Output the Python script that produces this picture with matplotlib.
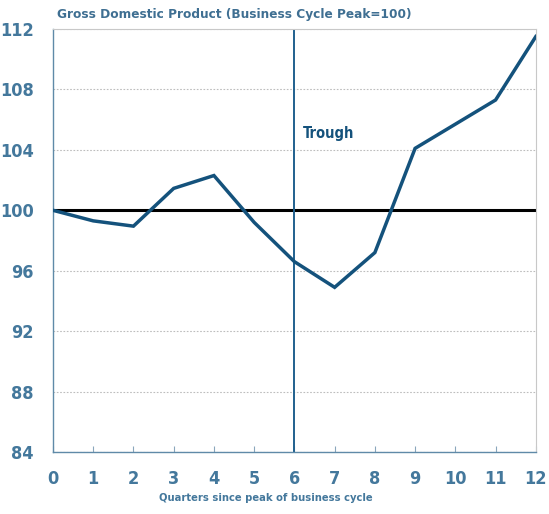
import matplotlib
matplotlib.use("Agg")
import matplotlib.pyplot as plt

quarters = list(range(0, 13))
gdp = [100.0, 99.3, 98.95, 101.45, 102.3, 99.2, 96.6, 94.9, 97.2, 104.1, 105.7, 107.3, 111.5]
yticks = [84, 88, 92, 96, 100, 104, 108, 112]
trough_q = 6

fam = ['DejaVu Sans']
tick_col = '#44789c'
line_col = '#14527c'

fig = plt.figure(figsize=(5.49, 5.14), dpi=100)
ax = fig.add_axes([0.0965, 0.1206, 0.8795, 0.823])

ax.plot(quarters, gdp, color=line_col, lw=2.5, zorder=3, solid_joinstyle='miter')
ax.axhline(100, color='black', lw=2.2, zorder=2)
ax.axvline(trough_q, color='#20608e', lw=1.4, zorder=2)
ax.text(6.2, 105.1, 'Trough', family=fam, fontweight='bold', fontsize=10.5, color=line_col,
        fontstretch='condensed', va='center')

ax.set_xlim(0, 12)
ax.set_ylim(84, 112)
ax.set_xticks(quarters)
ax.set_yticks(yticks)
ax.grid(axis='y', color='#bdbdbd', ls=(0, (1.5, 1.5)), lw=0.8)
ax.set_axisbelow(True)

for s in ['top', 'right']:
    ax.spines[s].set_color('#c8c8c8')
for s in ['left', 'bottom']:
    ax.spines[s].set_color('#5f8aa8')
    ax.spines[s].set_linewidth(1.0)

ax.tick_params(axis='x', direction='in', length=4, color='#8aa6bc', pad=13)
ax.tick_params(axis='y', length=0, pad=14)
for lab in ax.get_xticklabels() + ax.get_yticklabels():
    lab.set_family(fam)
    lab.set_fontweight('bold')
    lab.set_fontsize(13)
    lab.set_fontstretch('condensed')
    lab.set_color(tick_col)

ax.set_xlabel('Quarters since peak of business cycle', family=fam, fontweight='bold',
              fontsize=8, color=tick_col, fontstretch='condensed')
ax.xaxis.set_label_coords(0.441, -0.096)
fig.text(0.104, 0.972, 'Gross Domestic Product (Business Cycle Peak=100)', family=fam,
         fontweight='bold', fontsize=9.7, color='#3f6f92', va='center', fontstretch='condensed')

fig.savefig('out.png', dpi=100)
